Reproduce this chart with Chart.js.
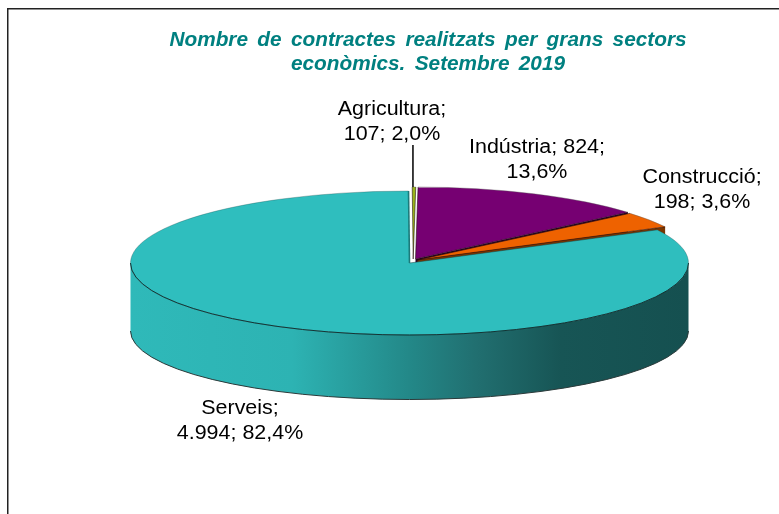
<!DOCTYPE html>
<html>
<head>
<meta charset="utf-8">
<style>html,body{margin:0;padding:0;background:#fff}canvas{display:block}</style>
<script src="https://cdn.jsdelivr.net/npm/chart.js@4/dist/chart.umd.min.js"></script>
</head>
<body>
<canvas id="c" width="779" height="514"></canvas>
<script>
const categories = ['Agricultura', 'Indústria', 'Construcció', 'Serveis'];
const contracts = ['107', '824', '198', '4.994'];
const percentLabels = ['2,0%', '13,6%', '3,6%', '82,4%'];
// Slice sizes, in percent. The Agricultura slice is drawn as a sliver there.
const sliceShares = [0.2, 13.6, 3.6, 82.4];
const sliceColors = ['#99B31A', '#760072', '#EE6200', '#2FBEBE'];
const titleLines = ['Nombre de contractes realitzats per grans sectors', 'econòmics. Setembre 2019'];

const FONT = '"Liberation Sans", Arial, sans-serif';
const LABEL_STRETCH = 1.1, TITLE_STRETCH = 1.04; // the reference's text is widened horizontally
const view = {cx: 410.5, cy: 262.5, rx: 279, ry: 72, depth: 68, bottomRy: 68.5};
const slicePull = [[2.7, -3.5], [5, -3.5], [7, -2.5], [-1, 0.5]];
const labelLayout = [
  {x: 392, y: [110, 135]},
  {x: 537, y: [148, 173]},
  {x: 702, y: [178, 203]},
  {x: 240, y: [409, 434]}
];
const labelLines = [
  [categories[0] + ';', contracts[0] + '; ' + percentLabels[0]],
  [categories[1] + '; ' + contracts[1] + ';', percentLabels[1]],
  [categories[2] + ';', contracts[2] + '; ' + percentLabels[2]],
  [categories[3] + ';', contracts[3] + '; ' + percentLabels[3]]
];

function geom(chart) {
  return chart.getDatasetMeta(0).data.map((a, i) => ({
    a, s: a.startAngle, e: a.endAngle,
    x: view.cx + slicePull[i][0], y: view.cy + slicePull[i][1]
  }));
}

const pie3d = {
  id: 'pie3d',
  beforeDraw(chart) {
    const c = chart.ctx;
    c.save();
    c.fillStyle = '#fff'; c.fillRect(0, 0, chart.width, chart.height);
    c.fillStyle = '#222';
    c.fillRect(7, 8, chart.width - 7, 1.5);
    c.fillRect(7, 8, 1.5, chart.height - 8);
    c.restore();
    // the title is drawn by Chart.js, widened like the rest of the picture's text
    const tb = chart.titleBlock;
    if (tb && !tb._wide) {
      tb._wide = true;
      const draw = tb.draw.bind(tb);
      tb.draw = () => {
        const mid = tb.left + tb.width / 2;
        c.save();
        c.wordSpacing = '3.4px';
        c.translate(mid, 0); c.scale(TITLE_STRETCH, 1); c.translate(-mid, 0);
        draw();
        c.wordSpacing = '0px';
        c.restore();
      };
    }
  },
  beforeDatasetsDraw(chart) {
    const c = chart.ctx, g = geom(chart);
    c.save();
    // radial side faces of the pulled-out slices
    [[1, '#2a0028'], [2, '#7A3500']].forEach(([i, col]) => {
      const p = g[i], ex = p.x + view.rx * Math.cos(p.e), ey = p.y + view.ry * Math.sin(p.e);
      c.beginPath();
      c.moveTo(p.x, p.y); c.lineTo(ex, ey); c.lineTo(ex, ey + view.depth); c.lineTo(p.x, p.y + view.depth); c.closePath();
      c.fillStyle = col; c.fill();
    });
    // curved front wall of the big slice
    const t = g[3], d = view.depth;
    const grad = c.createLinearGradient(t.x - view.rx, 0, t.x + view.rx, 0);
    grad.addColorStop(0, '#2FB9B9');
    grad.addColorStop(0.29, '#2DB3B3');
    grad.addColorStop(0.5, '#238888');
    grad.addColorStop(0.62, '#216F70');
    grad.addColorStop(0.77, '#175555');
    grad.addColorStop(1, '#155050');
    c.beginPath();
    c.ellipse(t.x, t.y, view.rx, view.ry, 0, 0, Math.PI, false);
    c.lineTo(t.x - view.rx, t.y + d);
    c.ellipse(t.x, t.y + d, view.rx, view.bottomRy, 0, Math.PI, 0, true);
    c.closePath();
    c.fillStyle = grad; c.fill();
    c.beginPath();
    c.ellipse(t.x, t.y + d, view.rx, view.bottomRy, 0, Math.PI, 0, true);
    c.strokeStyle = '#2b3a3a'; c.lineWidth = 1; c.stroke();
    c.restore();
  },
  beforeDatasetDraw(chart) {
    const c = chart.ctx, arcs = chart.getDatasetMeta(0).data, a0 = arcs[0], R = a0.outerRadius;
    const sx = view.rx / R, sy = view.ry / R;
    // each slice keeps its own pull-out from the centre
    arcs.forEach((a, i) => {
      const base = Object.getPrototypeOf(a).draw;
      a.draw = function (ctx) {
        ctx.save();
        ctx.translate(slicePull[i][0] / sx, slicePull[i][1] / sy);
        base.call(this, ctx);
        ctx.restore();
      };
    });
    c.save();
    c.translate(view.cx, view.cy);
    c.scale(sx, sy);
    c.translate(-a0.x, -a0.y);
  },
  afterDatasetDraw(chart) { chart.ctx.restore(); },
  afterDatasetsDraw(chart) {
    const c = chart.ctx, g = geom(chart);
    c.save();
    [0, 1, 2].forEach(i => {
      const p = g[i];
      c.beginPath();
      c.ellipse(p.x, p.y, view.rx, view.ry, 0, p.s, p.e, false);
      c.strokeStyle = 'rgba(90,90,90,0.55)'; c.lineWidth = 0.7; c.stroke();
      c.beginPath();
      c.moveTo(p.x + view.rx * Math.cos(p.s), p.y + view.ry * Math.sin(p.s));
      c.lineTo(p.x, p.y);
      c.lineTo(p.x + view.rx * Math.cos(p.e), p.y + view.ry * Math.sin(p.e));
      c.strokeStyle = 'rgba(30,10,10,0.8)'; c.stroke();
    });
    const t = g[3];
    c.beginPath();
    c.ellipse(t.x, t.y, view.rx, view.ry, 0, t.s, t.e, false);
    c.strokeStyle = 'rgba(20,60,60,0.4)'; c.lineWidth = 0.7; c.stroke();
    c.beginPath();
    c.moveTo(t.x + view.rx * Math.cos(t.s), t.y + view.ry * Math.sin(t.s));
    c.lineTo(t.x, t.y);
    c.strokeStyle = 'rgba(20,60,60,0.7)'; c.stroke();
    c.beginPath();
    c.moveTo(t.x, t.y);
    c.lineTo(t.x + view.rx * Math.cos(t.e), t.y + view.ry * Math.sin(t.e));
    c.strokeStyle = '#1C7A7A'; c.lineWidth = 1.6; c.stroke();
    c.beginPath();
    c.ellipse(t.x, t.y, view.rx, view.ry, 0, 0, Math.PI, false);
    c.strokeStyle = '#123535'; c.lineWidth = 1; c.stroke();
    // leader line and data labels
    c.fillStyle = '#000'; c.fillRect(412.2, 145, 1.5, 42);
    c.font = '19.5px ' + FONT; c.textAlign = 'center'; c.textBaseline = 'middle';
    labelLines.forEach((lines, i) => lines.forEach((s, j) => {
      c.save();
      c.translate(labelLayout[i].x, labelLayout[i].y[j]);
      c.scale(LABEL_STRETCH, 1);
      c.fillText(s, 0, 0);
      c.restore();
    }));
    c.restore();
  }
};

new Chart(document.getElementById('c'), {
  type: 'pie',
  data: {labels: categories, datasets: [{
    data: sliceShares, backgroundColor: sliceColors, borderWidth: 0, clip: false
  }]},
  plugins: [pie3d],
  options: {
    responsive: false, animation: false,
    rotation: -0.2,
    layout: {padding: {left: 77, top: 28, right: 0, bottom: 10}},
    plugins: {
      legend: {display: false}, tooltip: {enabled: false},
      title: {display: true, text: titleLines, color: '#008080',
        font: {family: FONT, size: 20, weight: 'bold', style: 'italic', lineHeight: 1.2},
        padding: {top: 0, bottom: 10}}
    }
  }
});
</script>
</body>
</html>
